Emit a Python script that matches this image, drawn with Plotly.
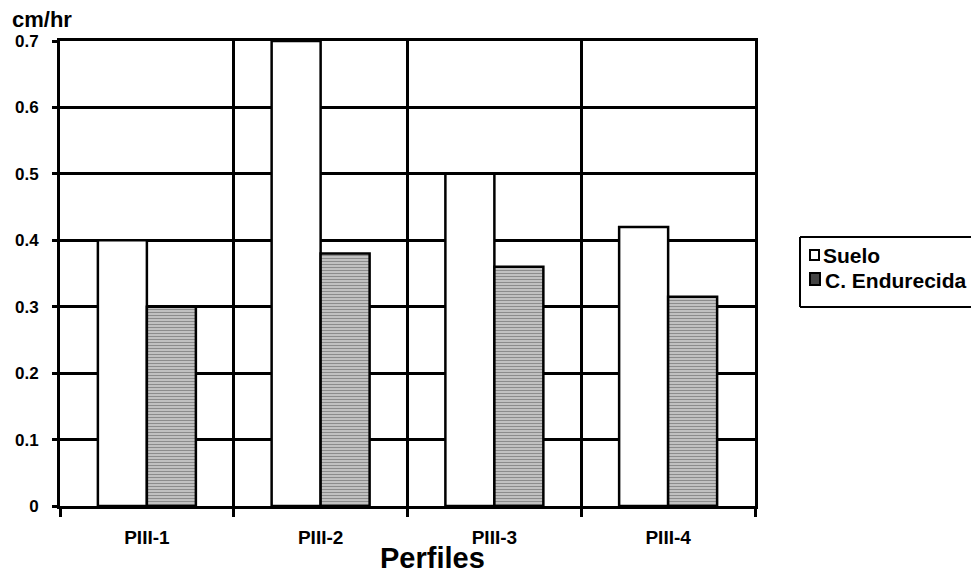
import plotly.graph_objects as go

# Infiltration rate per soil profile
perfiles = ["PIII-1", "PIII-2", "PIII-3", "PIII-4"]
suelo = [0.40, 0.70, 0.50, 0.42]
endurecida = [0.30, 0.38, 0.36, 0.315]
series_names = ["Suelo", "C. Endurecida"]

y_tick_vals = [0, 0.1, 0.2, 0.3, 0.4, 0.5, 0.6, 0.7]
y_tick_text = ["0", "0.1", "0.2", "0.3", "0.4", "0.5", "0.6", "0.7"]

W, H = 971, 578
L, R, T, B = 60, 755, 41, 506  # plot area in pixels


def px(x):
    return (x - L) / (R - L)


def py(y):
    return (B - y) / (B - T)


FONT = "Liberation Sans, Arial, sans-serif"
bar_line = dict(color="black", width=2.5)

fig = go.Figure()
fig.add_bar(
    x=perfiles, y=suelo, name=series_names[0],
    marker=dict(color="white", line=bar_line),
)
fig.add_bar(
    x=perfiles, y=endurecida, name=series_names[1],
    marker=dict(
        color="white", line=bar_line,
        pattern=dict(shape="-", fgcolor="#1a1a1a", bgcolor="white",
                     size=3, solidity=0.7),
    ),
)

axis_common = dict(
    showgrid=True, gridcolor="black", gridwidth=3,
    showline=True, linecolor="black", linewidth=3, mirror=True,
    ticks="outside", tickcolor="black", tickwidth=2.5,
    zeroline=False,
)

fig.update_layout(
    width=W, height=H, autosize=False,
    margin=dict(l=L, r=W - R, t=T, b=H - B, pad=0),
    paper_bgcolor="white", plot_bgcolor="white",
    barmode="group", bargap=0.436, bargroupgap=0,
    showlegend=False,
    font=dict(family=FONT, color="black"),
    xaxis=dict(
        type="category", tickson="boundaries", ticklen=8,
        tickfont=dict(size=19, weight="bold"), ticklabelstandoff=12,
        **axis_common,
    ),
    yaxis=dict(
        range=[0, 0.7], tickvals=y_tick_vals, ticktext=y_tick_text,
        ticklen=5, tickfont=dict(size=17, weight="bold"),
        ticklabelstandoff=10,
        **axis_common,
    ),
)

# Axis titles
fig.add_annotation(
    text="cm/hr", xref="paper", yref="paper", x=px(10), y=py(20),
    xanchor="left", yanchor="middle", showarrow=False,
    font=dict(size=22, weight="bold"),
)
fig.add_annotation(
    text="Perfiles", xref="paper", yref="paper", x=px(433), y=py(558),
    xanchor="center", yanchor="middle", showarrow=False,
    font=dict(size=29, weight="bold"),
)

# Legend frame (open on the right, running off the page edge)
frame = dict(color="black", width=2)
fig.add_shape(type="line", xref="paper", yref="paper",
              x0=px(800), x1=px(W + 20), y0=py(237), y1=py(237), line=frame)
fig.add_shape(type="line", xref="paper", yref="paper",
              x0=px(800), x1=px(W + 20), y0=py(307), y1=py(307), line=frame)
fig.add_shape(type="line", xref="paper", yref="paper",
              x0=px(800), x1=px(800), y0=py(237), y1=py(307), line=frame)

# Legend swatches and labels
fig.add_shape(type="rect", xref="paper", yref="paper",
              x0=px(810), x1=px(819), y0=py(260), y1=py(250),
              line=dict(color="black", width=2), fillcolor="white")
fig.add_shape(type="rect", xref="paper", yref="paper",
              x0=px(810), x1=px(820), y0=py(285), y1=py(273),
              line=dict(color="black", width=2), fillcolor="#444444")
fig.add_annotation(
    text=series_names[0], xref="paper", yref="paper", x=px(821), y=py(255),
    xanchor="left", yanchor="middle", showarrow=False,
    font=dict(size=21, weight="bold"),
)
fig.add_annotation(
    text=series_names[1], xref="paper", yref="paper", x=px(823), y=py(280),
    xanchor="left", yanchor="middle", showarrow=False,
    font=dict(size=21, weight="bold"),
)

fig.write_html("out.html")
